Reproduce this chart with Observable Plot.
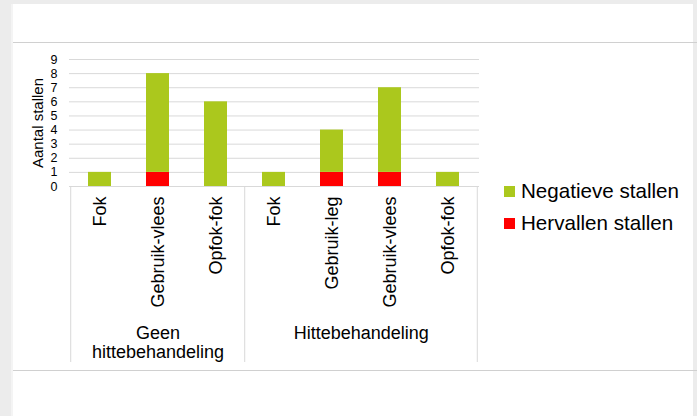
<!DOCTYPE html>
<html>
<head>
<meta charset="utf-8">
<script src="https://cdn.jsdelivr.net/npm/d3@7"></script>
<script src="https://cdn.jsdelivr.net/npm/@observablehq/plot@0.6"></script>
<style>
  html, body { margin: 0; padding: 0; background: #ececec; }
  body { width: 697px; height: 416px; position: relative; overflow: hidden;
         font-family: "Liberation Sans", Arial, sans-serif; }
  #panel { position: absolute; left: 11px; top: 4px; width: 680px; height: 420px; background: #fff;
           border-left: 2px solid #f4f4f4; }
  .hline { position: absolute; left: 13px; width: 684px; height: 1px; background: #d0d0d0; }
  #chart { position: absolute; left: 0; top: 0; }
  #chart svg { background: transparent !important; --plot-background: transparent; }
  #legend { position: absolute; left: 504px; top: 175px; background: transparent !important; }
  #legend * { font-size: 20.6px !important; background: transparent; }
  .lg-swatch { height: 32px !important; padding: 0 !important; margin: 0 !important; }
  .lg-swatch svg { margin-right: 6px !important; }
</style>
</head>
<body>
<div id="panel"></div>
<div class="hline" style="top:42px"></div>
<div class="hline" style="top:370px"></div>
<div id="chart"></div>
<div id="legend"></div>
<script>
// ---- data ----
const groups = ["Geen\nhittebehandeling", "Hittebehandeling"];
const groupOf = [0, 0, 0, 1, 1, 1, 1];
const categories = ["Fok", "Gebruik-vlees", "Opfok-fok", "Fok", "Gebruik-leg", "Gebruik-vlees", "Opfok-fok"];
const negatieve = [1, 7, 6, 1, 3, 6, 1];
const hervallen = [0, 1, 0, 0, 1, 1, 0];
const seriesNames = ["Negatieve stallen", "Hervallen stallen"];
const seriesColors = ["#abc81d", "#ff0000"];
const yTicks = [0, 1, 2, 3, 4, 5, 6, 7, 8, 9];

// ---- build table ----
const keys = categories.map((c, i) => `${groupOf[i]}|${c}`);
const rows = [];
keys.forEach((k, i) => {
  rows.push({key: k, series: seriesNames[1], value: hervallen[i]});
  rows.push({key: k, series: seriesNames[0], value: negatieve[i]});
});
// group boundaries: first key of each group (left edge) + last key (right edge)
const bounds = [];
groups.forEach((g, gi) => {
  bounds.push({key: keys[groupOf.indexOf(gi)], side: -1});
});
bounds.push({key: keys[keys.length - 1], side: 1});
// group label anchors
const groupLabels = groups.map((g, gi) => {
  const idx = groupOf.map((v, i) => v === gi ? i : -1).filter(i => i >= 0);
  const mid = (idx.length - 1) / 2;
  const lo = Math.floor(mid);
  return {key: keys[idx[lo]], frac: mid - lo, label: g};
});

const W = 697, H = 416;
const mL = 69, mR = 218, mT = 59, mB = 230;
const pInner = 0.6;
const step = (W - mL - mR) / keys.length;

const chart = Plot.plot({
  width: W,
  height: H,
  marginLeft: mL,
  marginRight: mR,
  marginTop: mT,
  marginBottom: mB,
  style: {background: "transparent", fontFamily: "'Liberation Sans', Arial, sans-serif", color: "#000"},
  x: {domain: keys, paddingInner: pInner, paddingOuter: pInner / 2, axis: null},
  y: {domain: [0, 9], axis: null},
  color: {domain: seriesNames, range: seriesColors},
  marks: [
    Plot.ruleY(yTicks, {stroke: "#d9d9d9", strokeWidth: 1}),
    Plot.axisY({ticks: yTicks, tickSize: 0, tickPadding: 12, fontSize: 12.5, label: null}),
    Plot.text(["Aantal stallen"], {frameAnchor: "left", textAnchor: "middle", rotate: -90, dx: -31, fontSize: 15, fill: "#000"}),
    Plot.barY(rows, Plot.stackY({order: seriesNames.slice().reverse()}, {x: "key", y: "value", fill: "series"})),
    Plot.ruleX(bounds, {x: "key", y1: 0, y2: 0, insetBottom: -176, stroke: "#d9d9d9",
      render: (index, scales, values, dims, context, next) => {
        const g = next(index, scales, values, dims, context);
        d3.select(g).selectAll("line").each(function(_, j) {
          const d = bounds[index[j]];
          const x0 = +this.getAttribute("x1");
          // x1 is the band centre; move to the edge of the category step
          const x = x0 + d.side * step / 2;
          this.setAttribute("x1", x); this.setAttribute("x2", x);
        });
        return g;
      }}),
    Plot.axisX({tickSize: 0, tickRotate: -90, tickPadding: 10, fontSize: 18, tickFormat: k => k.split("|")[1], label: null}),
    Plot.text(groupLabels, {x: "key", y: 0, text: "label", lineAnchor: "top", dy: 138, fontSize: 18, lineHeight: 1.1, fill: "#000",
      render: (index, scales, values, dims, context, next) => {
        const g = next(index, scales, values, dims, context);
        d3.select(g).selectAll("text").each(function(_, j) {
          const d = groupLabels[index[j]];
          if (d.frac) {
            const t = this.getAttribute("transform") || "";
            this.setAttribute("transform", `translate(${d.frac * step},0) ` + t);
          }
        });
        return g;
      }})
  ]
});
document.getElementById("chart").append(chart);

const legend = chart.legend("color", {columns: 1, swatchSize: 11, className: "lg",
  style: {fontSize: "20.6px", fontFamily: "'Liberation Sans', Arial, sans-serif", color: "#000", background: "transparent"}});
document.getElementById("legend").append(legend);
</script>
</body>
</html>
